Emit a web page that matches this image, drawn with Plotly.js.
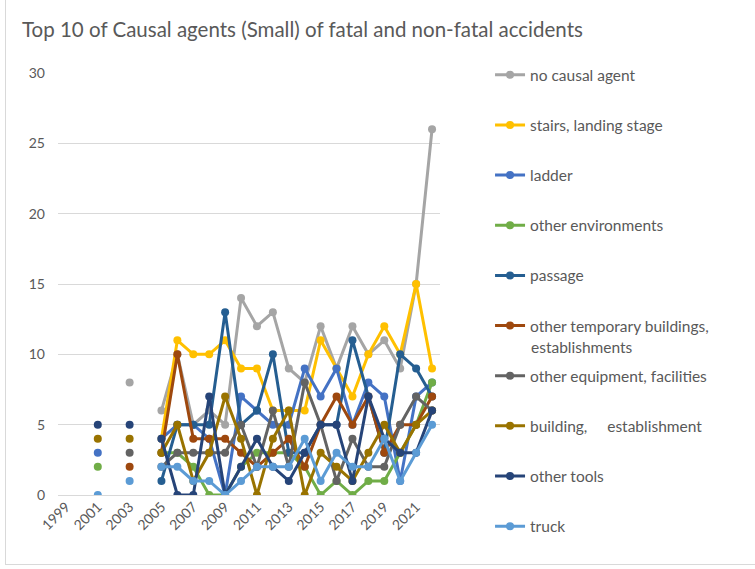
<!DOCTYPE html>
<html>
<head>
<meta charset="utf-8">
<script src="https://cdn.plot.ly/plotly-3.0.1.min.js"></script>
<style>
  html, body { margin: 0; padding: 0; background: #fff; }
  #wrap { position: relative; width: 755px; height: 569px; overflow: hidden; }
  #frame { position: absolute; left: 5px; top: -2px; width: 760px; height: 567px;
           border-left: 1px solid #d9d9d9; border-bottom: 1px solid #d9d9d9; box-sizing: border-box; }
  #chart { position: absolute; left: 0; top: 0; width: 755px; height: 569px; }
</style>
</head>
<body>
<div id="wrap"><div id="frame"></div><div id="chart"></div></div>
<script>
const years = [1999,2000,2001,2002,2003,2004,2005,2006,2007,2008,2009,2010,2011,2012,2013,2014,2015,2016,2017,2018,2019,2020,2021,2022];
const tickYears = [1999,2001,2003,2005,2007,2009,2011,2013,2015,2017,2019,2021];

const seriesNames = [
  "no causal agent",
  "stairs, landing stage",
  "ladder",
  "other environments",
  "passage",
  "other temporary buildings,",
  "other equipment, facilities",
  "building,\u00a0\u00a0\u00a0\u00a0 establishment",
  "other tools",
  "truck"
];

const noCausalAgent = [null,null,null,null,8,null, 6,10,5,6,5,14,12,13,9,8,12,9,12,10,11,9,15,26];
const stairsLanding = [null,null,null,null,null,null, 4,11,10,10,11,9,9,6,6,6,11,9,7,10,12,10,15,9];
const ladder        = [null,null,3,null,null,null, 4,5,5,4,0,7,6,5,5,9,7,9,5,8,7,1,7,8];
const otherEnv      = [null,null,2,null,null,null, 3,3,2,0,0,2,3,3,3,2,0,1,0,1,1,3,5,8];
const passage       = [null,null,null,null,null,null, 1,5,5,5,13,5,6,10,3,3,5,5,11,7,3,10,9,7];
const otherTemp     = [null,null,null,null,2,null, 3,10,4,4,4,3,2,3,4,2,5,7,5,7,3,5,5,7];
const otherEquip    = [null,null,null,null,3,null, 2,3,3,3,3,5,2,6,2,8,5,1,4,2,2,5,7,6];
const building      = [null,null,4,null,4,null, 3,5,1,3,7,4,0,4,6,0,3,2,1,3,5,3,5,6];
const otherTools    = [null,null,5,null,5,null, 4,0,0,7,0,2,4,2,1,3,5,5,1,7,4,3,3,6];
const truck         = [null,null,0,null,1,null, 2,2,1,1,0,1,2,2,2,4,1,3,2,2,4,1,3,5];

const seriesValues = [noCausalAgent, stairsLanding, ladder, otherEnv, passage, otherTemp, otherEquip, building, otherTools, truck];
const colors = ["#A5A5A5","#FFC000","#4472C4","#70AD47","#255E91","#9E480E","#636363","#997300","#264478","#5B9BD5"];

const traces = seriesValues.map((vals, i) => ({
  type: "scatter",
  mode: "lines+markers",
  x: years,
  y: vals,
  name: seriesNames[i],
  legendgroup: "g" + i,
  connectgaps: false,
  line: { color: colors[i], width: 3 },
  marker: { color: colors[i], size: 8 },
  hoverinfo: "x+y+name"
}));

const FONT = "Lato, 'Open Sans', sans-serif";
const LEGEND_FONT = 15.5;
const layout = {
  width: 755, height: 569,
  margin: { l: 58, r: 315, t: 73, b: 74 },
  paper_bgcolor: "rgba(0,0,0,0)",
  plot_bgcolor: "rgba(0,0,0,0)",
  font: { family: FONT, size: 14, color: "#595959" },
  title: {
    text: "Top 10 of Causal agents (Small) of fatal and non-fatal accidents",
    font: { family: FONT, size: 20.5, color: "#595959" },
    x: 0, xref: "container", xanchor: "left",
    y: 1, yref: "container", yanchor: "top", pad: { t: 23, l: 22 }
  },
  xaxis: {
    type: "linear",
    range: [1998.5, 2022.5],
    tickvals: tickYears,
    ticktext: tickYears.map(String),
    tickangle: -45,
    showgrid: false,
    zeroline: false,
    showline: false,
    ticks: "",
    tickfont: { family: FONT, size: 14, color: "#595959" }
  },
  yaxis: {
    range: [0, 30],
    tickvals: [0,5,10,15,20,25,30],
    showgrid: true,
    gridcolor: "#d9d9d9",
    gridwidth: 1,
    zeroline: true,
    zerolinecolor: "#d9d9d9",
    zerolinewidth: 1,
    showline: false,
    ticks: "",
    ticklabelstandoff: 12,
    tickfont: { family: FONT, size: 14, color: "#595959" }
  },
  showlegend: true,
  legend: {
    x: 1.131, xanchor: "left",
    y: 1.035, yanchor: "top",
    traceorder: "grouped",
    tracegroupgap: 27,
    maxheight: 560,
    font: { family: FONT, size: LEGEND_FONT, color: "#595959" },
    bgcolor: "rgba(0,0,0,0)",
    itemwidth: 30
  },
  annotations: [{
    text: "establishments",
    xref: "paper", yref: "paper",
    x: (529 - 58) / 382, y: (495 - 347) / 422,
    xanchor: "left", yanchor: "middle",
    showarrow: false,
    font: { family: FONT, size: LEGEND_FONT, color: "#595959" }
  }]
};

Plotly.newPlot("chart", traces, layout, { staticPlot: true, displayModeBar: false });
</script>
</body>
</html>
